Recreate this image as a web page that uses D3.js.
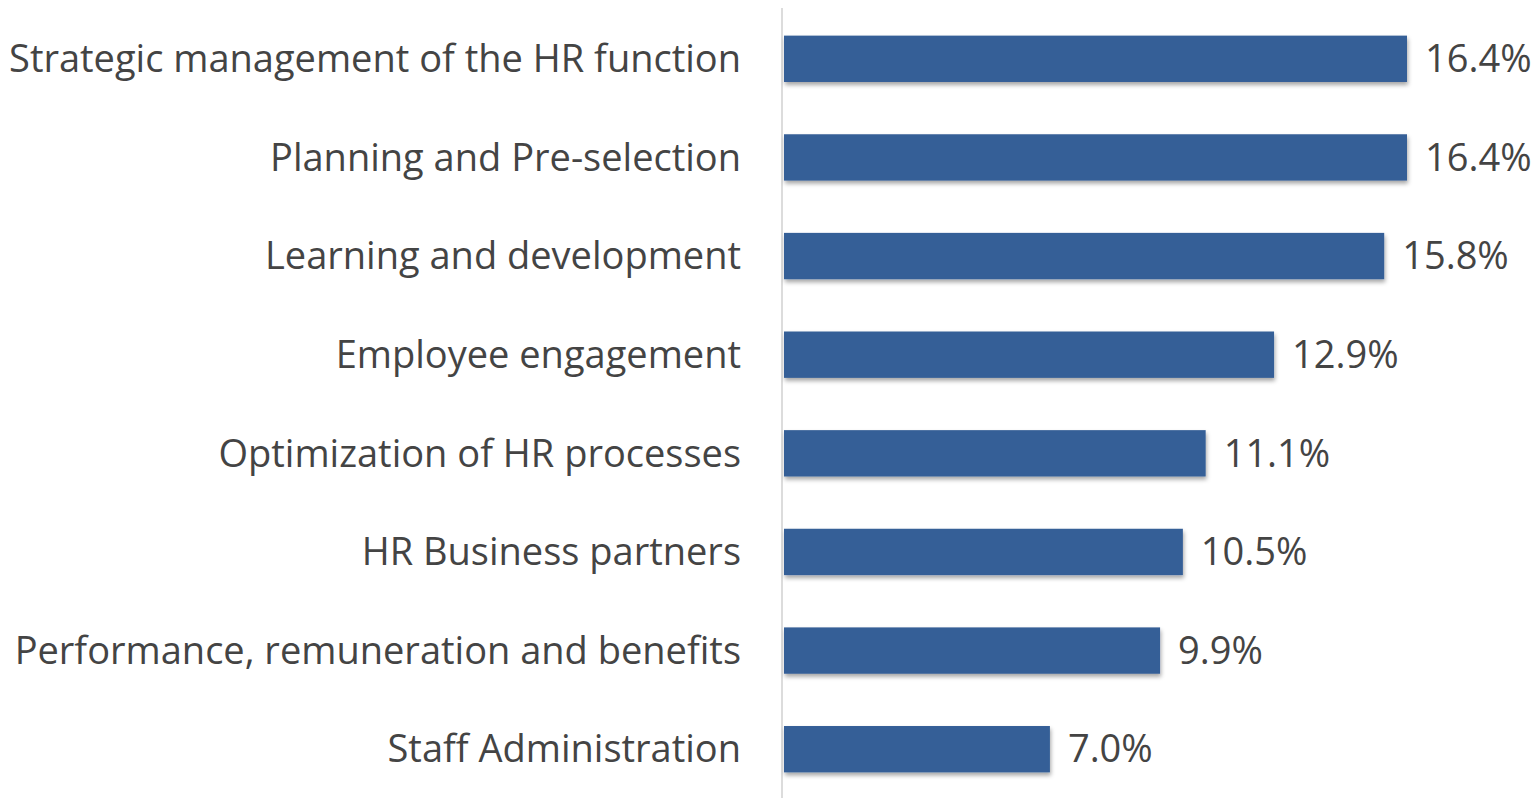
<!DOCTYPE html>
<html>
<head>
<meta charset="utf-8">
<script src="https://cdn.jsdelivr.net/npm/d3@7"></script>
<style>
  html, body { margin: 0; padding: 0; background: #fff; }
  svg { display: block; }
  text { font-family: "Open Sans", sans-serif; fill: #444; }
</style>
</head>
<body>
<div id="chart"></div>
<script>
// categories top to bottom, share in percent
const categories = [
  "Strategic management of the HR function",
  "Planning and Pre-selection",
  "Learning and development",
  "Employee engagement",
  "Optimization of HR processes",
  "HR Business partners",
  "Performance, remuneration and benefits",
  "Staff Administration"
];
const shares = [16.4, 16.4, 15.8, 12.9, 11.1, 10.5, 9.9, 7.0];

const width = 1535, height = 798;
const margin = {left: 784, right: 80, top: 9, bottom: 0};

const svg = d3.select('#chart')
  .append('svg')
  .attr('width', width)
  .attr('height', height);

const defs = svg.append('defs');
const shadow = defs.append('filter')
  .attr('id', 'shadow')
  .attr('x', '-5%').attr('y', '-20%')
  .attr('width', '110%').attr('height', '160%');
shadow.append('feDropShadow')
  .attr('dx', 1).attr('dy', 3)
  .attr('stdDeviation', 2)
  .attr('flood-color', '#000')
  .attr('flood-opacity', 0.35);

const x = d3.scaleLinear()
  .domain([0, 16.4])
  .range([margin.left, 1407]);

const y = d3.scaleBand()
  .domain(categories)
  .range([margin.top, height - margin.bottom + 1])
  .paddingInner(0.53)
  .paddingOuter(0.27);

// vertical axis line
svg.append('line')
  .attr('x1', margin.left - 2).attr('x2', margin.left - 2)
  .attr('y1', 8).attr('y2', height)
  .attr('stroke', '#d0d0d0')
  .attr('stroke-width', 1.5);

svg.append('g')
  .selectAll('rect')
  .data(shares)
  .join('rect')
  .attr('x', x(0))
  .attr('y', (d, i) => y(categories[i]))
  .attr('width', d => x(d) - x(0))
  .attr('height', y.bandwidth())
  .attr('fill', '#365f97')
  .attr('filter', 'url(#shadow)');

// category labels
svg.append('g')
  .selectAll('text')
  .data(categories)
  .join('text')
  .attr('x', 741)
  .attr('y', d => y(d) + y.bandwidth() / 2)
  .attr('dy', '0.35em')
  .attr('text-anchor', 'end')
  .style('font-size', '38px')
  .text(d => d);

// value labels
svg.append('g')
  .selectAll('text')
  .data(shares)
  .join('text')
  .attr('x', d => x(d) + 18)
  .attr('y', (d, i) => y(categories[i]) + y.bandwidth() / 2)
  .attr('dy', '0.35em')
  .style('font-size', '38px')
  .text(d => d.toFixed(1) + '%');
</script>
</body>
</html>
